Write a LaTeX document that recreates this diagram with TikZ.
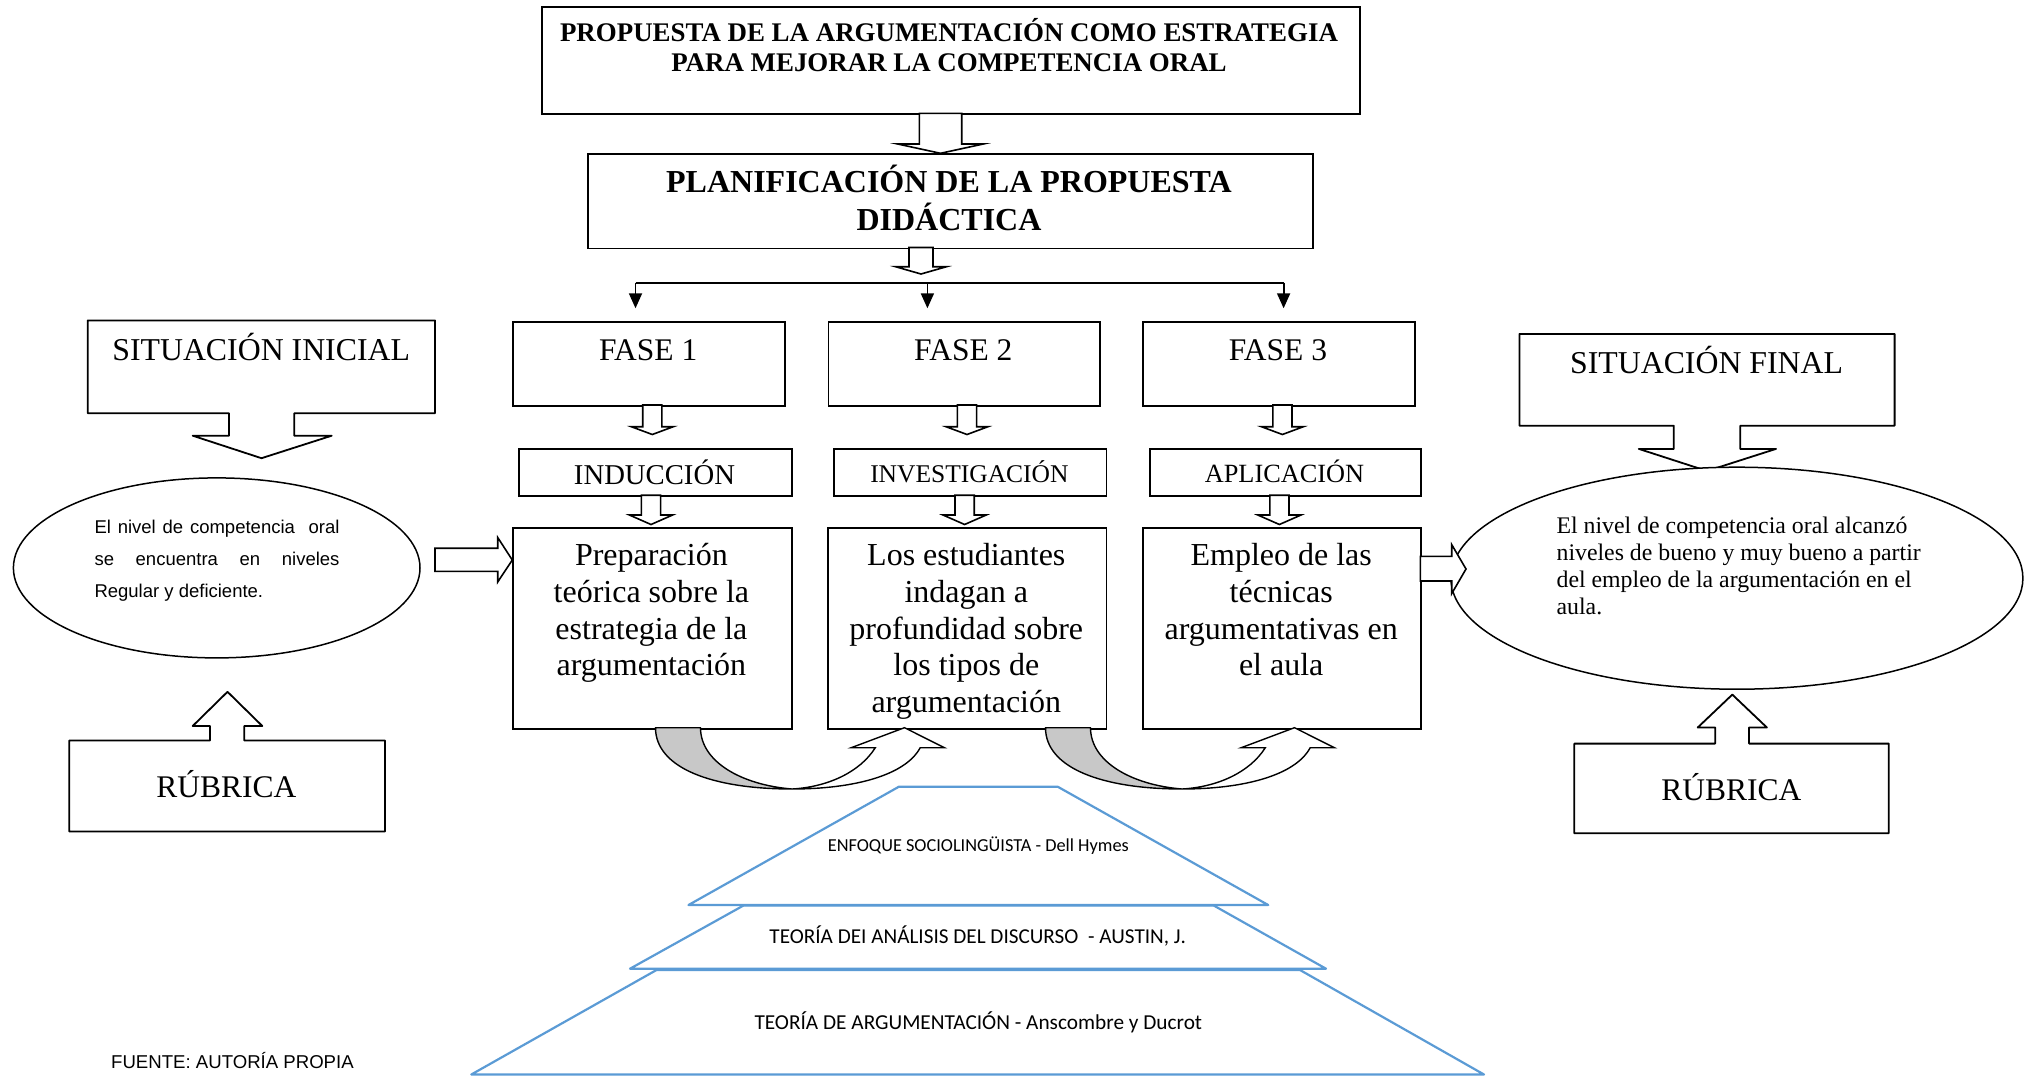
\documentclass[tikz,border=0pt]{standalone}
\usepackage{fontspec}
\setmainfont{Liberation Serif}
\newfontfamily\arialfont{Liberation Sans}
\newfontfamily\calibrifont{Carlito}
\usepackage{tkz-euclide}
\usetikzlibrary{arrows.meta,shapes.geometric}

\definecolor{pyrblue}{RGB}{91,155,213}
\definecolor{bandgray}{RGB}{200,200,200}

\tikzset{
  box/.style={draw, line width=1.8pt, inner sep=0pt, anchor=north west},
  boxtext/.style={anchor=base, inner sep=0pt, align=center},
  blockarrow/.style={draw, line width=1.6pt, fill=white, line join=miter},
  layer/.style={line width=2.2pt, color=pyrblue},
}

% hollow down arrow: centre x, top, head base, tip, half shaft, half head
\newcommand{\hollowdown}[6]{%
  \draw[blockarrow] (#1-#5,#2) -- (#1+#5,#2) -- (#1+#5,#3) -- (#1+#6,#3)
    -- (#1,#4) -- (#1-#6,#3) -- (#1-#5,#3) -- cycle;}

\begin{document}
\begin{tikzpicture}[x=1pt,y=-1pt]
\useasboundingbox (0,0) rectangle (2024,1076);

% title and planning (multi-line texts sit on their last baseline)
\node[box, minimum width=818pt, minimum height=107.6pt] (propuesta) at (541,5.7) {};
\node[boxtext, font=\fontsize{26.9}{30}\selectfont\bfseries] (propuestatxt) at (949,71.7)
  {PROPUESTA DE LA ARGUMENTACIÓN COMO ESTRATEGIA\\PARA MEJORAR LA COMPETENCIA ORAL};
\hollowdown{940.5}{113.3}{144}{153.3}{21.2}{42.8}
\node[box, minimum width=725pt, minimum height=94.2pt] (planif) at (587,153.3) {};
\node[boxtext, font=\fontsize{32}{37.3}\selectfont\bfseries] (planiftxt) at (949,230)
  {PLANIFICACIÓN DE LA PROPUESTA\\DIDÁCTICA};
\hollowdown{921}{247.5}{266.7}{274}{12}{25.5}

% branches
\coordinate (split) at (927.4,282.7);
\draw[line width=1.8pt] (635.5,282.7) -- (split) -- (1283.6,282.7);
\foreach \x in {635.5,927.4,1283.6}
  \draw[line width=1.8pt, -{Triangle[length=15pt,width=13pt]}] (\x,282.7) -- (\x,308.3);

% phases
\foreach \n/\x/\c in {1/512/648.2,2/827.5/963.3,3/1142.3/1277.9} {
  \node[box, minimum width=271.8pt, minimum height=84.3pt] (fase\n) at (\x,320.7) {};
  \node[boxtext, font=\fontsize{31.5}{36}\selectfont] (fasetxt\n) at (\c,360.7) {FASE \n};
}
\foreach \c in {652.3,967,1282.4} {
  \hollowdown{\c}{405}{426.7}{434.5}{9.6}{21}
}

\node[box, minimum width=272.6pt, minimum height=47.5pt] (induccion) at (518.2,447.7) {};
\node[box, minimum width=272.2pt, minimum height=47.5pt] (investigacion) at (833.3,447.7) {};
\node[box, minimum width=271.4pt, minimum height=47.5pt] (aplicacion) at (1148.8,447.7) {};
\node[boxtext, font=\fontsize{28.7}{33}\selectfont] (inducciontxt) at (654.5,484) {INDUCCIÓN};
\node[boxtext, font=\fontsize{25.5}{30}\selectfont] (investigaciontxt) at (969.4,482.5) {INVESTIGACIÓN};
\node[boxtext, font=\fontsize{26.3}{30}\selectfont] (aplicaciontxt) at (1284.5,482.5) {APLICACIÓN};
\foreach \c in {651,964.6,1279.4} {
  \hollowdown{\c}{495.2}{515}{524.5}{9.6}{21.6}
}

\node[box, minimum width=278.8pt, minimum height=201.5pt] (preparacion) at (512,526.7) {};
\node[box, minimum width=278.5pt, minimum height=201.5pt] (indagan) at (827,526.7) {};
\node[box, minimum width=278.3pt, minimum height=201.5pt] (empleo) at (1142,526.7) {};
\begin{scope}[every node/.style={boxtext, font=\fontsize{32}{36.7}\selectfont}]
  \node (preparaciontxt) at (651.4,675.8) {Preparación\\teórica sobre la\\estrategia de la\\argumentación};
  \node (indagantxt) at (966.3,712.5) {Los estudiantes\\indagan a\\profundidad sobre\\los tipos de\\argumentación};
  \node (empleotxt) at (1281.2,675.8) {Empleo de las\\técnicas\\argumentativas en\\el aula};
\end{scope}

% curved arrows between the phases
\foreach \s in {0,390} {
  \begin{scope}[xshift=\s pt]
    \draw[line width=1.4pt, fill=bandgray] (655.5,727.7) .. controls (655.5,768) and (712,789) .. (792,789)
      .. controls (742,785) and (700.5,762) .. (700.5,727.7) -- cycle;
    \draw[line width=1.4pt, fill=white] (792,789) .. controls (852,789) and (905,776) .. (920.2,747.7)
      -- (944.4,747.7) -- (904.5,727.7) -- (851.2,747.7) -- (875.3,747.7)
      .. controls (860,772) and (828,787) .. (792,789) -- cycle;
  \end{scope}
}

% initial situation
\tkzDefPoints{87.7/320.4/a1,435/320.4/a2,435/413.2/a3,294.3/413.2/a4,294.3/435.7/a5,331.7/435.7/a6,261.5/458.2/a7,192.7/435.7/a8,229/435.7/a9,229/413.2/a10,87.7/413.2/a11}
\tkzDrawPolygon[line width=1.8pt](a1,a2,a3,a4,a5,a6,a7,a8,a9,a10,a11)
\node[boxtext, font=\fontsize{31.8}{36}\selectfont] (inicialtxt) at (261.2,360.7) {SITUACIÓN INICIAL};
\node[draw, ellipse, line width=1.5pt, minimum width=406.6pt, minimum height=180pt, inner sep=0pt] (inicial) at (216.7,567.9) {};
\node[anchor=base west, inner sep=0pt, align=left, font=\arialfont\fontsize{18.5}{31.6}\selectfont] (inicialdesc) at (94.3,597.1)
  {\makebox[245pt][s]{El nivel de competencia \ oral}\\\makebox[245pt][s]{se encuentra en niveles}\\Regular y deficiente.};
\draw[blockarrow] (435,548.2) -- (497.7,548.2) -- (497.7,537.5) -- (512.3,560) -- (497.7,582) -- (497.7,571.4) -- (435,571.4) -- cycle;
\tkzDefPoints{69.3/740.4/b1,210/740.4/b2,210/726/b3,192.7/726/b4,227.5/691.8/b5,262.3/726/b6,244.3/726/b7,244.3/740.4/b8,385/740.4/b9,385/831.4/b10,69.3/831.4/b11}
\tkzDrawPolygon[line width=1.8pt](b1,b2,b3,b4,b5,b6,b7,b8,b9,b10,b11)
\node[boxtext, font=\fontsize{31.5}{36}\selectfont] (rubricatxt1) at (226.4,797) {RÚBRICA};

% final situation
\tkzDefPoints{1519.4/333.9/c1,1894.6/333.9/c2,1894.6/425.7/c3,1740.2/425.7/c4,1740.2/448.9/c5,1776/448.9/c6,1707/471/c7,1638.8/448.9/c8,1673.8/448.9/c9,1673.8/425.7/c10,1519.4/425.7/c11}
\tkzDrawPolygon[line width=1.8pt](c1,c2,c3,c4,c5,c6,c7,c8,c9,c10,c11)
\node[boxtext, font=\fontsize{31.8}{36}\selectfont] (finaltxt) at (1706.6,373.2) {SITUACIÓN FINAL};
\node[draw, fill=white, ellipse, line width=1.5pt, minimum width=572pt, minimum height=222pt, inner sep=0pt] (final) at (1736.9,578.2) {};
\node[anchor=base west, inner sep=0pt, align=left, font=\fontsize{23.8}{26.8}\selectfont] (finaldesc) at (1556.4,614.3)
  {El nivel de competencia oral alcanzó\\niveles de bueno y muy bueno a partir\\del empleo de la argumentación en el\\aula.};
\draw[blockarrow] (1420.3,556.4) -- (1451.7,556.4) -- (1451.7,544.6) -- (1466,569) -- (1451.7,593.6) -- (1451.7,581) -- (1420.3,581) -- cycle;
\tkzDefPoints{1574.3/743.6/d1,1715.2/743.6/d2,1715.2/727.5/d3,1697.7/727.5/d4,1732.3/694.6/d5,1766.9/727.5/d6,1749/727.5/d7,1749/743.6/d8,1888.7/743.6/d9,1888.7/833.2/d10,1574.3/833.2/d11}
\tkzDrawPolygon[line width=1.8pt](d1,d2,d3,d4,d5,d6,d7,d8,d9,d10,d11)
\node[boxtext, font=\fontsize{31.5}{36}\selectfont] (rubricatxt2) at (1731.3,800) {RÚBRICA};

% theory pyramid
\tkzDefPoints{471.3/1074.5/G,1484/1074.5/H,1300/970/I,656.5/970/J}
\tkzDrawPolygon[layer](G,H,I,J)
\tkzDefPoints{630/968.7/K,1326/968.7/L,1213.7/905.5/M,743.5/905.5/N}
\tkzDrawPolygon[layer](K,L,M,N)
\tkzDefPoints{688.5/905/P,1268.2/905/Q,1057.7/786.7/R,898.9/786.7/S}
\tkzDrawPolygon[layer](P,Q,R,S)
\node[anchor=base, inner sep=0pt, font=\calibrifont\fontsize{18.3}{22}\selectfont] (hymes) at (978.3,851.6) {ENFOQUE SOCIOLINGÜISTA - Dell Hymes};
\node[anchor=base, inner sep=0pt, font=\calibrifont\fontsize{21.2}{25}\selectfont] (austin) at (977.7,943.5) {TEORÍA DEI ANÁLISIS DEL DISCURSO \ - AUSTIN, J.};
\node[anchor=base, inner sep=0pt, font=\calibrifont\fontsize{21.3}{25}\selectfont] (ducrot) at (978.3,1029.6) {TEORÍA DE ARGUMENTACIÓN - Anscombre y Ducrot};

\node[anchor=base west, inner sep=0pt, font=\arialfont\fontsize{18.6}{22}\selectfont] (fuente) at (111,1068) {FUENTE: AUTORÍA PROPIA};
\end{tikzpicture}
\end{document}
